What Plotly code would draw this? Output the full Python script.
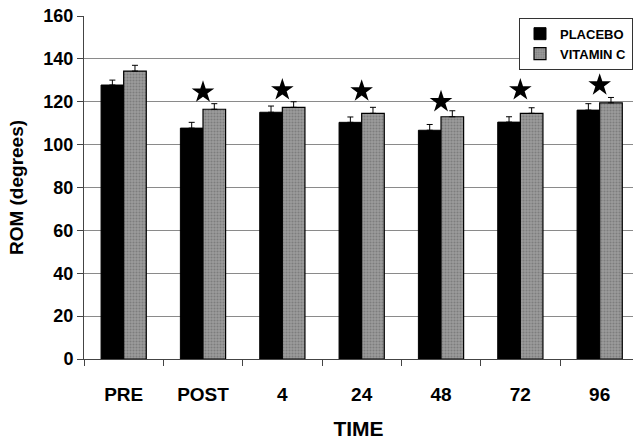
import plotly.graph_objects as go

categories = ["PRE", "POST", "4", "24", "48", "72", "96"]
placebo = [127.8, 107.7, 115.1, 110.4, 106.7, 110.5, 116.1]
placebo_err = [2.3, 2.7, 2.9, 2.5, 2.7, 2.5, 3.0]
vitamin_c = [134.3, 116.5, 117.4, 114.6, 113.0, 114.6, 119.5]
vitamin_c_err = [2.7, 2.6, 2.6, 2.8, 2.8, 2.6, 2.5]
star_categories = ["POST", "4", "24", "48", "72", "96"]
star_y = [124.5, 125.5, 125.0, 120.0, 125.5, 127.8]
y_ticks = [0, 20, 40, 60, 80, 100, 120, 140, 160]

FONT = "Liberation Sans, Arial, sans-serif"

fig = go.Figure()
fig.add_trace(go.Bar(
    name="PLACEBO", x=categories, y=placebo,
    marker=dict(color="#000000", line=dict(color="#000000", width=1)),
    error_y=dict(type="data", array=placebo_err, symmetric=False,
                 arrayminus=[0] * len(placebo_err),
                 color="#000000", thickness=1, width=3),
))
fig.add_trace(go.Bar(
    name="VITAMIN C", x=categories, y=vitamin_c,
    marker=dict(color="#909090", line=dict(color="#000000", width=1.2),
                pattern=dict(shape=".", fgcolor="#5e5e5e", bgcolor="#9c9c9c",
                             size=3, solidity=0.4, fillmode="overlay")),
    error_y=dict(type="data", array=vitamin_c_err, symmetric=False,
                 arrayminus=[0] * len(vitamin_c_err),
                 color="#000000", thickness=1, width=3),
))
fig.add_trace(go.Scatter(
    x=star_categories, y=star_y, mode="markers", showlegend=False,
    marker=dict(symbol="star", size=17, color="#000000"),
    hoverinfo="skip",
))

fig.update_layout(
    width=633, height=440,
    margin=dict(l=84, r=0, t=16, b=81),
    paper_bgcolor="white", plot_bgcolor="white",
    barmode="group", bargap=0.43, bargroupgap=0,
    font=dict(family=FONT, color="#000000"),
    legend=dict(
        x=1, xanchor="right", y=0.995, yanchor="top",
        bgcolor="white", bordercolor="#333333", borderwidth=1,
        font=dict(size=13, weight="bold", family=FONT),
        itemwidth=30, tracegroupgap=0,
    ),
    xaxis=dict(
        type="category", categoryorder="array", categoryarray=categories,
        range=[-0.5, 6.42], automargin=False,
        showline=True, linecolor="#444444", linewidth=1,
        ticks="outside", tickson="boundaries", ticklen=6, tickcolor="#444444",
        tickfont=dict(size=19, weight="bold"),
        ticklabelstandoff=18,
        showgrid=False,
        title=dict(text="TIME", font=dict(size=21, weight="bold"), standoff=20),
    ),
    yaxis=dict(
        range=[0, 160], tickvals=y_ticks, automargin=False,
        showline=True, linecolor="#444444", linewidth=1,
        ticks="outside", ticklen=6, tickcolor="#444444",
        tickfont=dict(size=18, weight="bold"),
        showgrid=True, gridcolor="#8a8a8a", gridwidth=1,
        zeroline=False,
        title=dict(text="ROM (degrees)", font=dict(size=19, weight="bold"), standoff=14),
    ),
)

fig.write_html("out.html", config={"displayModeBar": False},
               post_script="document.body.style.margin='0';")
